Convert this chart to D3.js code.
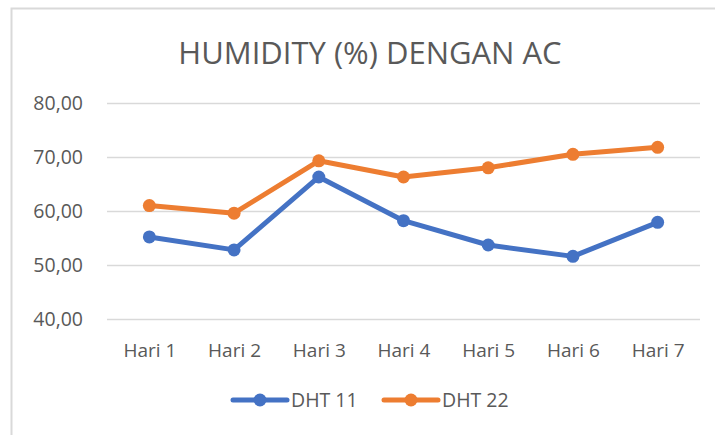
<!DOCTYPE html>
<html>
<head>
<meta charset="utf-8">
<script src="https://cdn.jsdelivr.net/npm/d3@7"></script>
<style>
  body { margin: 0; background: #fff; }
  text { font-family: "Open Sans", sans-serif; fill: #595959; }
</style>
</head>
<body>
<div id="chart"></div>
<script>
  const w = 715, h = 435;

  const days = ["Hari 1", "Hari 2", "Hari 3", "Hari 4", "Hari 5", "Hari 6", "Hari 7"];
  const dht11 = [55.2, 52.8, 66.3, 58.2, 53.7, 51.6, 57.9];
  const dht22 = [61.0, 59.6, 69.3, 66.3, 68.0, 70.5, 71.8];
  const yTicks = [40, 50, 60, 70, 80];
  const seriesNames = ["DHT 11", "DHT 22"];
  const colors = ["#4472C4", "#ED7D31"];

  var svg = d3.select("#chart")
    .append("svg")
    .attr("width", w)
    .attr("height", h);

  // chart frame (left + top edge only visible)
  svg.append("path")
    .attr("d", "M11.5," + h + "V8.5H" + w)
    .attr("fill", "none")
    .style("stroke", "#d9d9d9")
    .style("stroke-width", "2px");

  const x = d3.scalePoint().domain(days).range([107, 700]).padding(0.5);
  const y = d3.scaleLinear().domain([40, 80]).range([319, 103]);

  svg.append("text")
    .attr("x", 370)
    .attr("y", 64)
    .attr("text-anchor", "middle")
    .style("font-size", "31px")
    .style("font-weight", "400")
    .text("HUMIDITY (%) DENGAN AC");

  // grid + y labels
  const yAxis = d3.axisLeft(y).tickValues(yTicks)
    .tickSize(-(700 - 107)).tickPadding(24)
    .tickFormat(d => d3.format(".2f")(d).replace(".", ","));
  const gy = svg.append("g").attr("transform", "translate(107,0)").call(yAxis);
  gy.select(".domain").remove();
  gy.selectAll("line").style("stroke", "#d9d9d9").style("stroke-width", "1.5px");
  gy.selectAll("text").style("font-size", "19.5px").style("fill", "#595959");

  const xAxis = d3.axisBottom(x).tickSize(0).tickPadding(25);
  const gx = svg.append("g").attr("transform", "translate(0,319)").call(xAxis);
  gx.select(".domain").remove();
  gx.selectAll("text").style("font-size", "19px").style("fill", "#595959");

  const line = d3.line().x((d, i) => x(days[i])).y(d => y(d));

  [dht11, dht22].forEach((s, k) => {
    svg.append("path")
      .attr("d", line(s))
      .style("fill", "none")
      .style("stroke", colors[k])
      .style("stroke-width", "5px")
      .style("stroke-linejoin", "round");
    svg.selectAll(null).data(s).enter().append("circle")
      .attr("cx", (d, i) => x(days[i]))
      .attr("cy", d => y(d))
      .attr("r", 6.5)
      .attr("fill", colors[k]);
  });

  // legend
  const legX = [233, 384];
  seriesNames.forEach((name, k) => {
    const g = svg.append("g").attr("transform", "translate(" + legX[k] + ",400)");
    g.append("line").attr("x1", 0).attr("x2", 54)
      .style("stroke", colors[k]).style("stroke-width", "5px").style("stroke-linecap", "round");
    g.append("circle").attr("cx", 27).attr("r", 6.5).attr("fill", colors[k]);
    g.append("text").attr("x", 58).attr("y", 7).style("font-size", "19.5px").text(name);
  });
</script>
</body>
</html>
